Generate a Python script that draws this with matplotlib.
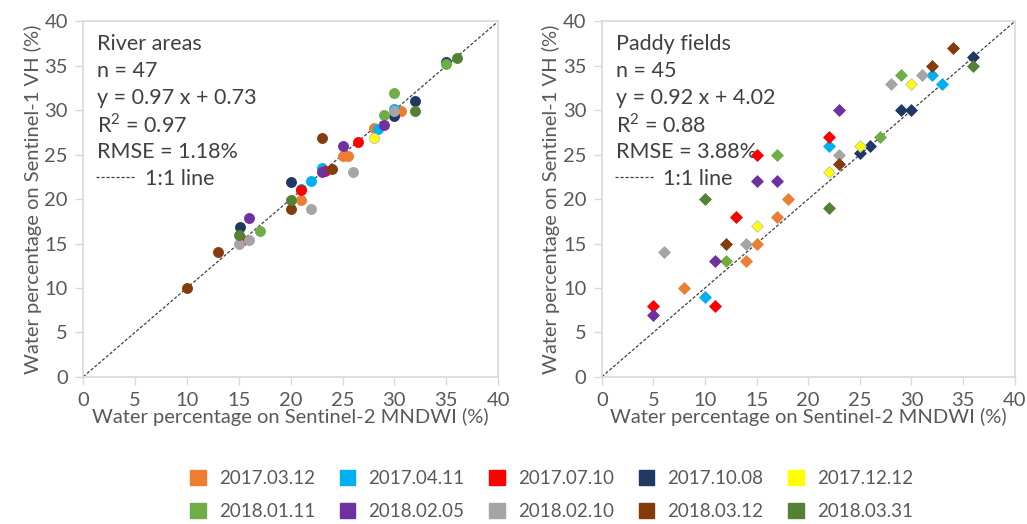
import matplotlib
matplotlib.use('Agg')
import matplotlib.pyplot as plt
from matplotlib.lines import Line2D
from matplotlib.patches import Patch

plt.rcParams['font.family'] = ['Lato', 'DejaVu Sans']
plt.rcParams['mathtext.fontset'] = 'custom'
plt.rcParams['mathtext.rm'] = 'Lato'

# acquisition dates and their colours (Excel palette)
dates = ['2017.03.12', '2017.04.11', '2017.07.10', '2017.10.08', '2017.12.12',
         '2018.01.11', '2018.02.05', '2018.02.10', '2018.03.12', '2018.03.31']
colors = ['#ED7D31', '#00B0F0', '#FF0000', '#1F3864', '#FFFF00',
          '#70AD47', '#7030A0', '#A5A5A5', '#843C0C', '#548235']

# river areas: MNDWI (x), VH (y), date index
river_x = [30.6, 28, 25, 25.5, 21,
           30, 28.4, 23, 22, 21,
           26.5, 23.3, 21, 15.4,
           35, 32, 30, 20, 15.1,
           28,
           35, 30, 29, 17,
           29, 25, 23, 16,
           30, 26, 22, 15, 16,
           23, 24, 20, 13, 10,
           36, 32, 20, 15]
river_y = [29.9, 28, 24.9, 24.9, 19.9,
           30.1, 27.9, 23.5, 22, 21.1,
           26.4, 23.2, 21, 15.4,
           35.4, 31.1, 29.4, 21.9, 16.9,
           26.9,
           35.2, 31.9, 29.5, 16.4,
           28.4, 26, 23, 17.9,
           29.9, 23, 18.9, 14.9, 15.4,
           26.9, 23.4, 18.9, 14, 10,
           35.9, 29.9, 19.9, 16]
river_d = [0] * 5 + [1] * 5 + [2] * 4 + [3] * 5 + [4] * 1 + \
          [5] * 4 + [6] * 4 + [7] * 5 + [8] * 5 + [9] * 4

# paddy fields
paddy_x = [18, 17, 15, 14, 8,
           32, 33, 22, 10,
           22, 15, 13, 5, 11,
           36, 29, 30, 26, 25,
           30, 25, 22, 15,
           29, 27, 17, 12,
           23, 15, 17, 11, 5,
           31, 28, 23, 14, 6,
           34, 32, 23, 12,
           36, 22, 10]
paddy_y = [20, 18, 15, 13, 10,
           34, 33, 26, 9,
           27, 25, 18, 8, 8,
           36, 30, 30, 26, 25.2,
           33, 26, 23, 17,
           34, 27, 25, 13,
           30, 22, 22, 13, 7,
           34, 33, 25, 15, 14,
           37, 35, 24, 15,
           35, 19, 20]
paddy_d = [0] * 5 + [1] * 4 + [2] * 5 + [3] * 5 + [4] * 4 + \
          [5] * 4 + [6] * 5 + [7] * 5 + [8] * 4 + [9] * 3

river_stats = ['River areas', 'n = 47', 'y = 0.97 x + 0.73',
               'R$^2$ = 0.97', 'RMSE = 1.18%']
paddy_stats = ['Paddy fields', 'n = 45', 'y = 0.92 x + 4.02',
               'R$^2$ = 0.88', 'RMSE = 3.88%']

ticks = [0, 5, 10, 15, 20, 25, 30, 35, 40]
txt_col = '#595959'
spine_col = '#D9D9D9'

fig = plt.figure(figsize=(10.27, 5.24), dpi=100)
ax1 = fig.add_axes([0.081, 0.281, 0.404, 0.678])
ax2 = fig.add_axes([0.586, 0.281, 0.402, 0.678])


def draw_panel(ax, xs, ys, ds, marker, size, stats):
    ax.plot([0, 40], [0, 40], ls=(0, (2.5, 1.5)), color='#404040', lw=0.9,
            zorder=1)
    for i in range(len(dates)):
        px = [x for x, d in zip(xs, ds) if d == i]
        py = [y for y, d in zip(ys, ds) if d == i]
        ec = '#BFBFBF' if colors[i] == '#FFFF00' else colors[i]
        ax.scatter(px, py, s=size, marker=marker, c=colors[i],
                   edgecolors=ec, linewidths=0.6, zorder=2 + i)
    ax.set_xlim(0, 40)
    ax.set_ylim(0, 40)
    ax.set_xticks(ticks)
    ax.set_yticks(ticks)
    ax.tick_params(colors=spine_col, labelcolor=txt_col, labelsize=14.5,
                   length=6, width=1, pad=5)
    for sp in ax.spines.values():
        sp.set_color(spine_col)
        sp.set_linewidth(1.2)
    ax.set_xlabel('Water percentage on Sentinel-2 MNDWI (%)', fontsize=14.5,
                  color=txt_col, labelpad=-1)
    ax.set_ylabel('Water percentage on Sentinel-1 VH (%)', fontsize=14.5,
                  color=txt_col, labelpad=2)
    for k, s in enumerate(stats):
        ax.text(0.034, 0.937 - k * 0.076, s, transform=ax.transAxes,
                fontsize=15.5, color='#404040', va='center', ha='left')
    h = Line2D([], [], ls=(0, (2.5, 1.5)), color='#404040', lw=0.9)
    ax.legend([h], ['1:1 line'], loc='center left',
              bbox_to_anchor=(0.0, 0.557), frameon=False, fontsize=15.5,
              handlelength=1.85, handletextpad=0.4, borderaxespad=0.2,
              labelcolor='#404040')


draw_panel(ax1, river_x, river_y, river_d, 'o', 52, river_stats)
draw_panel(ax2, paddy_x, paddy_y, paddy_d, 'D', 36, paddy_stats)

# date legend: two rows of five
order = [0, 5, 1, 6, 2, 7, 3, 8, 4, 9]
handles = [Patch(facecolor=colors[i], edgecolor=colors[i]) for i in order]
labels = [dates[i] for i in order]
fig.legend(handles, labels, ncol=5, loc='lower center',
           bbox_to_anchor=(0.537, -0.025), frameon=False, fontsize=13.5,
           handlelength=0.85, handleheight=0.85, handletextpad=0.7,
           columnspacing=1.3, labelspacing=0.85, labelcolor=txt_col)

fig.savefig('out.png', dpi=100)
